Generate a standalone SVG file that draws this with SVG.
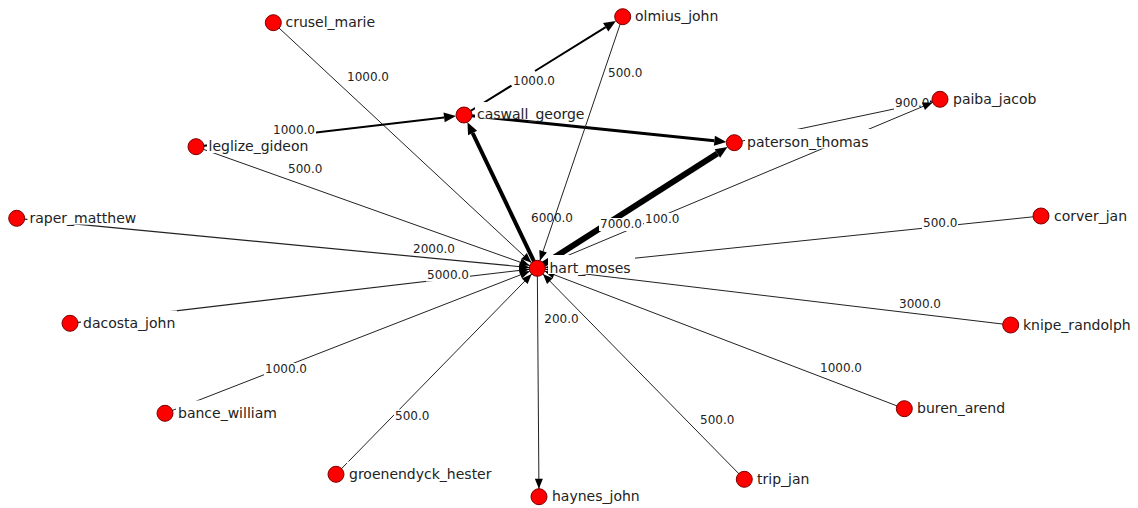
<svg xmlns="http://www.w3.org/2000/svg" width="1138" height="508" viewBox="0 0 1138 508">
<style>
.e{fill:none;stroke:#222;stroke-width:1}
.t{stroke:#000}
.lb{fill:#fff}
.el{font-family:"DejaVu Sans",Verdana,sans-serif;font-size:12px;fill:#222}
.nl{font-family:"DejaVu Sans",Verdana,sans-serif;font-size:14px;fill:#222}
.n{fill:#ff0000;stroke:#7a0000;stroke-width:1}
</style>
<defs>
<marker id="a" markerUnits="userSpaceOnUse" markerWidth="20" markerHeight="8" refX="18" refY="4" orient="auto" overflow="visible"><path d="M0,0 L10,4 L0,8 z" fill="#000"/></marker>
<marker id="b" markerUnits="userSpaceOnUse" markerWidth="12" markerHeight="10" refX="0" refY="0" orient="auto" overflow="visible"><path d="M0,-5 L12,0 L0,5 z" fill="#000"/></marker>
</defs>
<rect width="1138" height="508" fill="#fff"/>
<g id="connectors">
<g><path class="e" d="M273.3,22.7 L537.3,268.3" marker-end="url(#a)"/><rect class="lb" x="346" y="70.5" width="44" height="13"/><text class="el" x="347" y="81">1000.0</text></g>
<g><path class="e" d="M196,146.7 L537.3,268.3" marker-end="url(#a)"/><rect class="lb" x="287" y="163" width="36" height="13"/><text class="el" x="288" y="173.3">500.0</text></g>
<g><path class="e" d="M16.7,218.3 L537.3,268.3" style="stroke-width:1.2" marker-end="url(#a)"/><rect class="lb" x="412" y="242" width="44" height="13"/><text class="el" x="413" y="252.5">2000.0</text></g>
<g><path class="e" d="M70,323.3 L537.3,268.3" style="stroke-width:1.2" marker-end="url(#a)"/><rect class="lb" x="426" y="268.5" width="44" height="13"/><text class="el" x="427" y="279">5000.0</text></g>
<g><path class="e" d="M165,413.3 L537.3,268.3" marker-end="url(#a)"/><rect class="lb" x="264" y="363" width="44" height="13"/><text class="el" x="265" y="373.3">1000.0</text></g>
<g><path class="e" d="M336,474.3 L537.3,268.3" marker-end="url(#a)"/><rect class="lb" x="394" y="409.5" width="36" height="13"/><text class="el" x="395" y="420">500.0</text></g>
<g><path class="e" d="M744.3,479.3 L537.3,268.3" marker-end="url(#a)"/><rect class="lb" x="699" y="413.5" width="36" height="13"/><text class="el" x="700" y="424">500.0</text></g>
<g><path class="e" d="M904.3,408.7 L537.3,268.3" marker-end="url(#a)"/><rect class="lb" x="819" y="361" width="44" height="13"/><text class="el" x="820" y="371.5">1000.0</text></g>
<g><path class="e" d="M1010.7,325 L537.3,268.3" style="stroke-width:1.1" marker-end="url(#a)"/><rect class="lb" x="898" y="298" width="44" height="13"/><text class="el" x="899" y="308.3">3000.0</text></g>
<g><path class="e" d="M1041,216 L537.3,268.3" marker-end="url(#a)"/><rect class="lb" x="922" y="216" width="36" height="13"/><text class="el" x="923" y="226.5">500.0</text></g>
<g><path class="e" d="M537.3,268.3 L539,496.7" marker-end="url(#a)"/><rect class="lb" x="543.5" y="312" width="36" height="13"/><text class="el" x="544.3" y="322.7">200.0</text></g>
<g><path class="e" d="M734.3,142.7 L940,99.3" marker-end="url(#a)"/><rect class="lb" x="894" y="97" width="36" height="13"/><text class="el" x="895" y="107.3">900.0</text></g>
<g><path class="e" d="M537.3,268.3 L940,99.3" marker-end="url(#a)"/><rect class="lb" x="644" y="213" width="36" height="13"/><text class="el" x="645" y="223.3">100.0</text></g>
<g><path class="e t" d="M196,146.7 L444.1,117.4" style="stroke-width:2" marker-end="url(#b)"/><rect class="lb" x="272" y="124" width="44" height="13"/><text class="el" x="273" y="134.3">1000.0</text></g>
<g><path class="e t" d="M464,115 L511.5,85.6 M535,71 L605.7,27.2" style="stroke-width:2" marker-end="url(#b)"/><text class="el" x="513" y="85.3">1000.0</text></g>
<g><path class="e t" d="M464,115 L714.4,140.7" style="stroke-width:3" marker-end="url(#b)"/></g>
<g><path class="e t" d="M537.3,268.3 L717.4,153.5" style="stroke-width:6" marker-end="url(#b)"/><rect class="lb" x="599" y="218" width="44" height="13"/><text class="el" x="600" y="228.3">7000.0</text></g>
<g><path class="e t" d="M537.3,268.3 L472.6,133" style="stroke-width:4" marker-end="url(#b)"/><rect class="lb" x="530" y="212" width="44" height="13"/><text class="el" x="531" y="222.3">6000.0</text></g>
<g><path class="e" d="M622.7,16.7 L537.3,268.3" marker-end="url(#a)"/><rect class="lb" x="607" y="67" width="36" height="13"/><text class="el" x="608" y="77.3">500.0</text></g>
</g>
<g id="crusel_marie"><circle class="n" cx="273.3" cy="22.7" r="8"/><rect class="lb" x="284" y="10" width="92" height="19"/><text class="nl" x="285.5" y="27">crusel_marie</text></g>
<g id="olmius_john"><circle class="n" cx="622.7" cy="16.7" r="8"/><rect class="lb" x="633.5" y="4" width="86" height="19"/><text class="nl" x="635" y="21">olmius_john</text></g>
<g id="caswall_george"><circle class="n" cx="464" cy="115" r="8"/><rect class="lb" x="475" y="102" width="110" height="16.5"/><text class="nl" x="477" y="119">caswall_george</text></g>
<g id="paiba_jacob"><circle class="n" cx="940" cy="99.3" r="8"/><rect class="lb" x="951" y="86.5" width="86" height="19"/><text class="nl" x="953" y="103.5">paiba_jacob</text></g>
<g id="paterson_thomas"><circle class="n" cx="734.3" cy="142.7" r="8"/><rect class="lb" x="745" y="129" width="127" height="19.5"/><text class="nl" x="747" y="147">paterson_thomas</text></g>
<g id="leglize_gideon"><circle class="n" cx="196" cy="146.7" r="8"/><rect class="lb" x="207" y="134" width="103" height="19"/><text class="nl" x="208.5" y="151">leglize_gideon</text></g>
<g id="raper_matthew"><circle class="n" cx="16.7" cy="218.3" r="8"/><rect class="lb" x="27.5" y="205.5" width="110" height="19"/><text class="nl" x="29.5" y="222.5">raper_matthew</text></g>
<g id="corver_jan"><circle class="n" cx="1041" cy="216" r="8"/><rect class="lb" x="1052" y="203" width="77" height="19"/><text class="nl" x="1054" y="220.5">corver_jan</text></g>
<g id="hart_moses"><circle class="n" cx="537.3" cy="268.3" r="8"/><rect class="lb" x="548" y="255" width="87" height="19"/><text class="nl" x="549.5" y="272.5">hart_moses</text></g>
<g id="dacosta_john"><circle class="n" cx="70" cy="323.3" r="8"/><rect class="lb" x="81" y="310.5" width="96" height="19"/><text class="nl" x="83" y="327.5">dacosta_john</text></g>
<g id="knipe_randolph"><circle class="n" cx="1010.7" cy="325" r="8"/><rect class="lb" x="1021.5" y="312" width="111" height="19"/><text class="nl" x="1023" y="329.5">knipe_randolph</text></g>
<g id="buren_arend"><circle class="n" cx="904.3" cy="408.7" r="8"/><rect class="lb" x="915" y="396" width="92" height="19"/><text class="nl" x="917" y="413">buren_arend</text></g>
<g id="bance_william"><circle class="n" cx="165" cy="413.3" r="8"/><rect class="lb" x="176" y="400.5" width="102" height="19"/><text class="nl" x="178" y="417.5">bance_william</text></g>
<g id="groenendyck_hester"><circle class="n" cx="336" cy="474.3" r="8"/><rect class="lb" x="347" y="461.5" width="146" height="19"/><text class="nl" x="349" y="478.5">groenendyck_hester</text></g>
<g id="haynes_john"><circle class="n" cx="539" cy="496.7" r="8"/><rect class="lb" x="550" y="484" width="91" height="19"/><text class="nl" x="552" y="501">haynes_john</text></g>
<g id="trip_jan"><circle class="n" cx="744.3" cy="479.3" r="8"/><rect class="lb" x="755" y="466.5" width="56" height="19"/><text class="nl" x="757" y="483.5">trip_jan</text></g>
</svg>
